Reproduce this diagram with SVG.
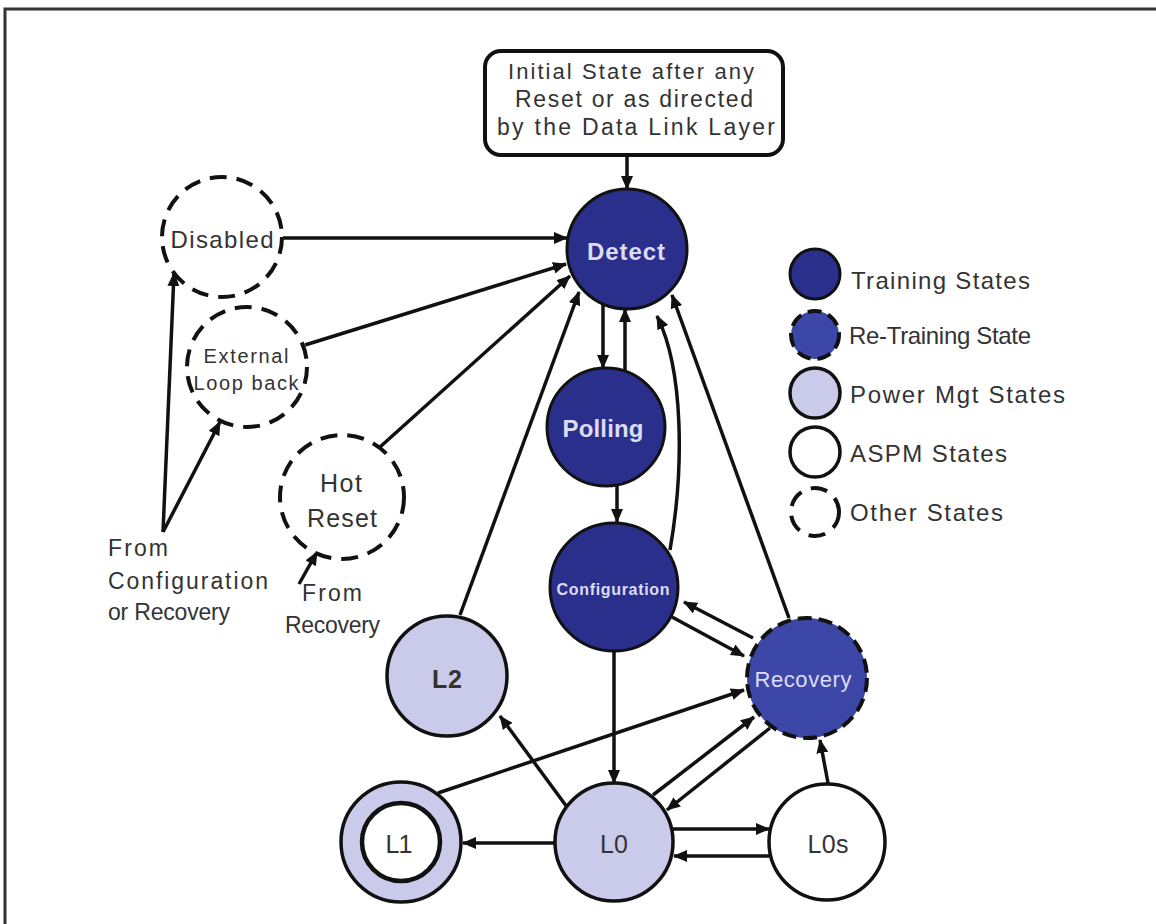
<svg xmlns="http://www.w3.org/2000/svg" width="1156" height="924" viewBox="0 0 1156 924">
  <style>
    .frame { fill: none; stroke: #333; stroke-width: 3; }
    .train { fill: #2b2f8c; stroke: #111; stroke-width: 3; }
    .retrain { fill: #3d47a8; stroke: #111; stroke-width: 4; stroke-dasharray: 14 7; }
    .power { fill: #cacaea; stroke: #111; stroke-width: 3.5; }
    .aspm { fill: #fff; stroke: #111; stroke-width: 3.5; }
    .other { fill: #fff; stroke: #111; stroke-width: 4; stroke-dasharray: 17 10; }
    .inner { fill: #fff; stroke: #111; stroke-width: 4.5; }
    .box { fill: #fff; stroke: #111; stroke-width: 4; }
    .conn path { fill: none; stroke: #111; stroke-width: 3.5; marker-end: url(#arrow); }
    text { font-family: "Liberation Sans", Arial, sans-serif; }
    .lt { fill: #dcdcf4; text-anchor: middle; font-weight: bold; }
    .lt.reg { font-weight: normal; }
    .dk { fill: #333; text-anchor: middle; }
    .lg { fill: #333; font-size: 24px; }
    .note { fill: #333; font-size: 23px; }
  </style>
  <defs>
    <marker id="arrow" markerUnits="userSpaceOnUse" markerWidth="14" markerHeight="12" refX="13" refY="6" orient="auto">
      <path d="M0,0 L14,6 L0,12 z" fill="#111"/>
    </marker>
  </defs>

  <rect class="frame" x="5" y="9" width="1170" height="940"/>

  <!-- connectors -->
  <g id="connectors" class="conn">
    <path d="M627 157 L627 189"/>
    <path d="M283 238 L567 238"/>
    <path d="M305 345 L566 264"/>
    <path d="M380 447 L570 276"/>
    <path d="M460 615 L579 292"/>
    <path d="M603 304 L603 368"/>
    <path d="M625 371 L625 309"/>
    <path d="M617 486 L617 522"/>
    <path d="M670 550 C 684 470, 684 370, 657 316"/>
    <path d="M789 618 L672 295"/>
    <path d="M753 638 L684 602"/>
    <path d="M672 617 L744 656"/>
    <path d="M438 793 L744 690"/>
    <path d="M567 807 L500 716"/>
    <path d="M614 651 L614 783"/>
    <path d="M653 795 L754 717"/>
    <path d="M770 728 L667 810"/>
    <path d="M828 783 L820 740"/>
    <path d="M555 843 L463 843"/>
    <path d="M673 829 L769 829"/>
    <path d="M769 856 L674 856"/>
    <path d="M163 532 L174 273"/>
    <path d="M163 532 L220 422"/>
    <path d="M299 584 L317 552"/>
  </g>

  <!-- initial state box -->
  <g id="initial">
    <rect class="box" x="485" y="51" width="298" height="104" rx="16"/>
    <text class="dk" x="631" y="79" font-size="22" textLength="246">Initial State after any</text>
    <text class="dk" x="634" y="107" font-size="23" textLength="238">Reset or as directed</text>
    <text class="dk" x="636" y="135" font-size="23" textLength="278">by the Data Link Layer</text>
  </g>

  <g id="detect">
    <circle class="train" cx="627" cy="249" r="60"/>
    <text class="lt" x="626" y="260" font-size="24" textLength="78">Detect</text>
  </g>
  <g id="polling">
    <circle class="train" cx="606" cy="427" r="59"/>
    <text class="lt" x="603" y="437" font-size="24" textLength="81">Polling</text>
  </g>
  <g id="configuration">
    <circle class="train" cx="614" cy="587" r="64"/>
    <text class="lt" x="613" y="595" font-size="16" textLength="113">Configuration</text>
  </g>
  <g id="recovery">
    <circle class="retrain" cx="807" cy="678" r="60"/>
    <text class="lt reg" x="803" y="687" font-size="22" textLength="97">Recovery</text>
  </g>
  <g id="l2">
    <circle class="power" cx="447" cy="676" r="60"/>
    <text class="dk" x="447" y="688" font-size="25" font-weight="bold" textLength="30">L2</text>
  </g>
  <g id="l0">
    <circle class="power" cx="614" cy="842" r="59"/>
    <text class="dk" x="614" y="853" font-size="25" textLength="28">L0</text>
  </g>
  <g id="l1">
    <circle class="power" cx="401" cy="842" r="60"/>
    <circle class="inner" cx="401" cy="842" r="39"/>
    <text class="dk" x="399" y="853" font-size="25" textLength="27">L1</text>
  </g>
  <g id="l0s">
    <circle class="aspm" cx="827" cy="842" r="58"/>
    <text class="dk" x="828" y="853" font-size="25" textLength="41">L0s</text>
  </g>
  <g id="disabled">
    <circle class="other" cx="222" cy="237" r="60"/>
    <text class="dk" x="222" y="248" font-size="24" textLength="103">Disabled</text>
  </g>
  <g id="external-loopback">
    <circle class="other" cx="247" cy="367" r="60"/>
    <text class="dk" x="246" y="363" font-size="20" textLength="85">External</text>
    <text class="dk" x="246" y="390" font-size="20" textLength="105">Loop back</text>
  </g>
  <g id="hot-reset">
    <circle class="other" cx="342" cy="497" r="62"/>
    <text class="dk" x="341" y="492" font-size="25" textLength="42">Hot</text>
    <text class="dk" x="342" y="527" font-size="25" textLength="70">Reset</text>
  </g>

  <!-- entry notes -->
  <g id="notes">
    <text class="note" x="108" y="556" textLength="60">From</text>
    <text class="note" x="108" y="589" textLength="160">Configuration</text>
    <text class="note" x="108" y="620" textLength="122">or Recovery</text>
    <text class="note" x="302" y="601" textLength="60">From</text>
    <text class="note" x="285" y="633" textLength="95">Recovery</text>
  </g>

  <!-- legend -->
  <g id="legend">
    <circle class="train" cx="815" cy="274" r="25"/>
    <text class="lg" x="851" y="289" textLength="179">Training States</text>
    <circle class="retrain" cx="815" cy="335" r="24"/>
    <text class="lg" x="849" y="344" textLength="182">Re-Training State</text>
    <circle class="power" cx="815" cy="393" r="25"/>
    <text class="lg" x="850" y="403" textLength="215">Power Mgt States</text>
    <circle class="aspm" cx="815" cy="452" r="25"/>
    <text class="lg" x="850" y="462" textLength="157">ASPM States</text>
    <circle class="other" cx="815" cy="512" r="24"/>
    <text class="lg" x="850" y="521" textLength="153">Other States</text>
  </g>
</svg>
